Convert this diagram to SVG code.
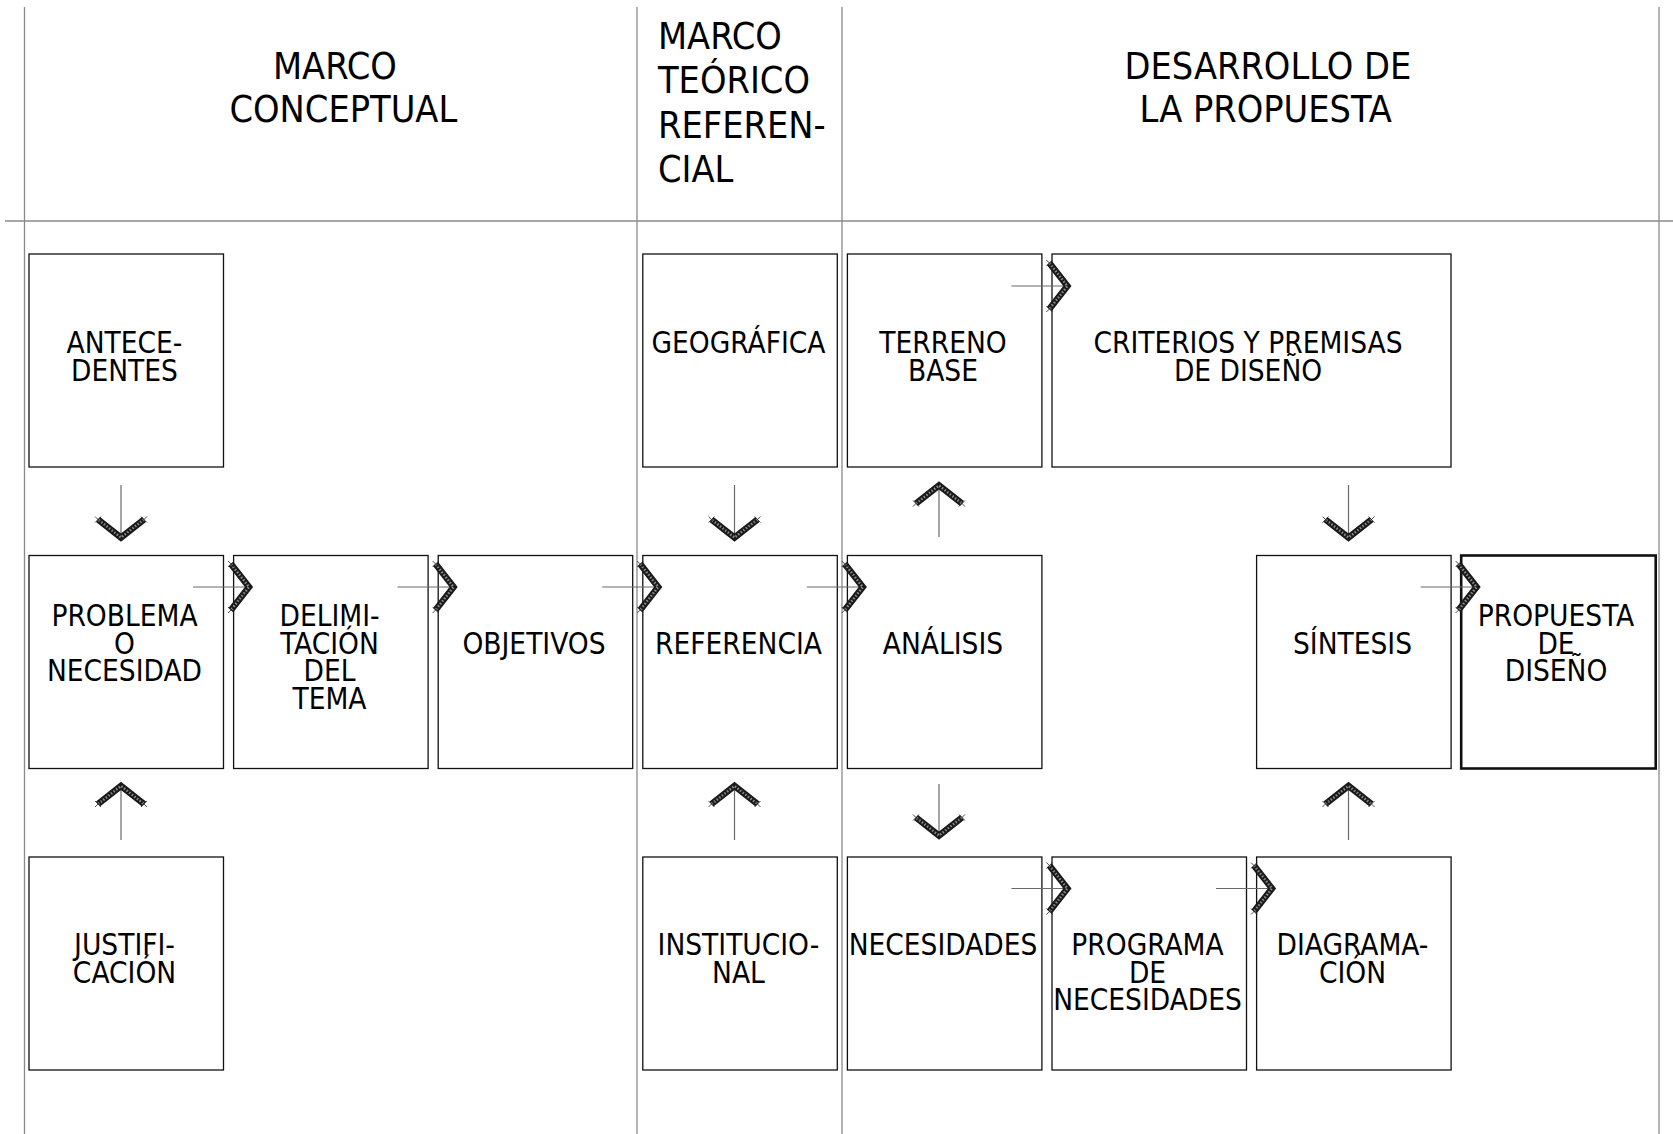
<svg xmlns="http://www.w3.org/2000/svg" width="1673" height="1134" viewBox="0 0 1673 1134">
<style>
  .grid { stroke: #8a8a8a; stroke-width: 1.3; fill: none; }
  .box { fill: #ffffff; stroke: #111; stroke-width: 1.3; }
  .box-strong { fill: #ffffff; stroke: #111; stroke-width: 2.6; }
  .lbl { font-family: 'DejaVu Sans Condensed', 'DejaVu Sans', sans-serif; font-stretch: condensed; font-size: 29.5px; fill: #000; text-anchor: middle; }
  .hdr { font-family: 'DejaVu Sans Condensed', 'DejaVu Sans', sans-serif; font-stretch: condensed; font-size: 37.5px; fill: #000; }
  .conn { stroke: #6a6a6a; stroke-width: 1.2; fill: none; marker-end: url(#chev); }
</style>
<defs>
  <marker id="chev" markerUnits="userSpaceOnUse" viewBox="-28 -30 34 60" refX="0" refY="0" markerWidth="34" markerHeight="60" orient="auto" overflow="visible">
    <path d="M-18,-23 L0,0 L-18,23" fill="none" stroke="#1a1a1a" stroke-width="6.5" stroke-linejoin="miter"/>
    <path d="M-18,-23 L0,0 L-18,23" fill="none" stroke="#8a8a8a" stroke-width="2.5" stroke-dasharray="1.5 1.8"/>
    <path d="M-21,-26 L-15,-20 M-21,-20 L-15,-26 M-21,20 L-15,26 M-21,26 L-15,20" stroke="#222" stroke-width="0.8"/>
  </marker>
</defs>
<rect x="0" y="0" width="1673" height="1134" fill="#ffffff"/>

<g id="grid">
  <line class="grid" x1="24.5" y1="7" x2="24.5" y2="1134"/>
  <line class="grid" x1="637" y1="7" x2="637" y2="1134"/>
  <line class="grid" x1="842" y1="7" x2="842" y2="1134"/>
  <line class="grid" x1="1659" y1="7" x2="1659" y2="1134"/>
  <line class="grid" x1="5" y1="221" x2="1673" y2="221"/>
</g>

<g id="headers">
  <text class="hdr"><tspan x="273" y="78.5">MARCO</tspan><tspan x="229.5" y="122">CONCEPTUAL</tspan></text>
  <text class="hdr"><tspan x="658" y="48.5">MARCO</tspan><tspan x="658" y="93">TEÓRICO</tspan><tspan x="658" y="137.5">REFEREN-</tspan><tspan x="658" y="182">CIAL</tspan></text>
  <text class="hdr"><tspan x="1124.5" y="78.5">DESARROLLO DE</tspan><tspan x="1139.5" y="122">LA PROPUESTA</tspan></text>
</g>

<g id="n_antecedentes"><rect class="box" x="29" y="254" width="194.5" height="213"/>
  <text class="lbl"><tspan x="124.5" y="353">ANTECE-</tspan><tspan x="124.5" y="380.5">DENTES</tspan></text></g>
<g id="n_geografica"><rect class="box" x="642.8" y="254" width="194.5" height="213"/>
  <text class="lbl"><tspan x="738.5" y="353">GEOGRÁFICA</tspan></text></g>
<g id="n_terreno"><rect class="box" x="847.4" y="254" width="194.5" height="213"/>
  <text class="lbl"><tspan x="943" y="353">TERRENO</tspan><tspan x="943" y="380.5">BASE</tspan></text></g>
<g id="n_criterios"><rect class="box" x="1052" y="254" width="399" height="213"/>
  <text class="lbl"><tspan x="1248" y="353">CRITERIOS Y PREMISAS</tspan><tspan x="1248" y="380.5">DE DISEÑO</tspan></text></g>

<g id="n_problema"><rect class="box" x="29" y="555.5" width="194.5" height="213"/>
  <text class="lbl"><tspan x="124.5" y="626">PROBLEMA</tspan><tspan x="124.5" y="653.5">O</tspan><tspan x="124.5" y="681">NECESIDAD</tspan></text></g>
<g id="n_delimitacion"><rect class="box" x="233.6" y="555.5" width="194.5" height="213"/>
  <text class="lbl"><tspan x="329.5" y="626">DELIMI-</tspan><tspan x="329.5" y="653.5">TACIÓN</tspan><tspan x="329.5" y="681">DEL</tspan><tspan x="329.5" y="708.5">TEMA</tspan></text></g>
<g id="n_objetivos"><rect class="box" x="438.2" y="555.5" width="194.5" height="213"/>
  <text class="lbl"><tspan x="534" y="653.5">OBJETIVOS</tspan></text></g>
<g id="n_referencia"><rect class="box" x="642.8" y="555.5" width="194.5" height="213"/>
  <text class="lbl"><tspan x="738.5" y="653.5">REFERENCIA</tspan></text></g>
<g id="n_analisis"><rect class="box" x="847.4" y="555.5" width="194.5" height="213"/>
  <text class="lbl"><tspan x="943" y="653.5">ANÁLISIS</tspan></text></g>
<g id="n_sintesis"><rect class="box" x="1256.6" y="555.5" width="194.5" height="213"/>
  <text class="lbl"><tspan x="1352.5" y="653.5">SÍNTESIS</tspan></text></g>
<g id="n_propuesta"><rect class="box-strong" x="1461.2" y="555.5" width="194.5" height="213"/>
  <text class="lbl"><tspan x="1556" y="626">PROPUESTA</tspan><tspan x="1556" y="653.5">DE</tspan><tspan x="1556" y="681">DISEÑO</tspan></text></g>

<g id="n_justificacion"><rect class="box" x="29" y="857" width="194.5" height="213"/>
  <text class="lbl"><tspan x="124.5" y="955">JUSTIFI-</tspan><tspan x="124.5" y="982.5">CACIÓN</tspan></text></g>
<g id="n_institucional"><rect class="box" x="642.8" y="857" width="194.5" height="213"/>
  <text class="lbl"><tspan x="738.5" y="955">INSTITUCIO-</tspan><tspan x="738.5" y="982.5">NAL</tspan></text></g>
<g id="n_necesidades"><rect class="box" x="847.4" y="857" width="194.5" height="213"/>
  <text class="lbl"><tspan x="943" y="955">NECESIDADES</tspan></text></g>
<g id="n_programa"><rect class="box" x="1052" y="857" width="194.5" height="213"/>
  <text class="lbl"><tspan x="1147.5" y="955">PROGRAMA</tspan><tspan x="1147.5" y="982.5">DE</tspan><tspan x="1147.5" y="1010">NECESIDADES</tspan></text></g>
<g id="n_diagramacion"><rect class="box" x="1256.6" y="857" width="194.5" height="213"/>
  <text class="lbl"><tspan x="1352.5" y="955">DIAGRAMA-</tspan><tspan x="1352.5" y="982.5">CIÓN</tspan></text></g>

<g id="connectors">
  <line class="conn" x1="193" y1="587" x2="249" y2="587"/>
  <line class="conn" x1="397.6" y1="587" x2="453.6" y2="587"/>
  <line class="conn" x1="602.2" y1="587" x2="658.2" y2="587"/>
  <line class="conn" x1="806.8" y1="587" x2="862.8" y2="587"/>
  <line class="conn" x1="1420.6" y1="587" x2="1476.6" y2="587"/>
  <line class="conn" x1="1011.4" y1="286" x2="1067.4" y2="286"/>
  <line class="conn" x1="1011.4" y1="888.5" x2="1067.4" y2="888.5"/>
  <line class="conn" x1="1216" y1="888.5" x2="1272" y2="888.5"/>
  <line class="conn" x1="121" y1="485" x2="121" y2="537.5"/>
  <line class="conn" x1="734.5" y1="485" x2="734.5" y2="537.5"/>
  <line class="conn" x1="1348.5" y1="485" x2="1348.5" y2="537.5"/>
  <line class="conn" x1="939" y1="537" x2="939" y2="485.5"/>
  <line class="conn" x1="939" y1="784" x2="939" y2="835.5"/>
  <line class="conn" x1="121" y1="840" x2="121" y2="786"/>
  <line class="conn" x1="734.5" y1="840" x2="734.5" y2="786"/>
  <line class="conn" x1="1348.5" y1="840" x2="1348.5" y2="786"/>
</g>
</svg>
